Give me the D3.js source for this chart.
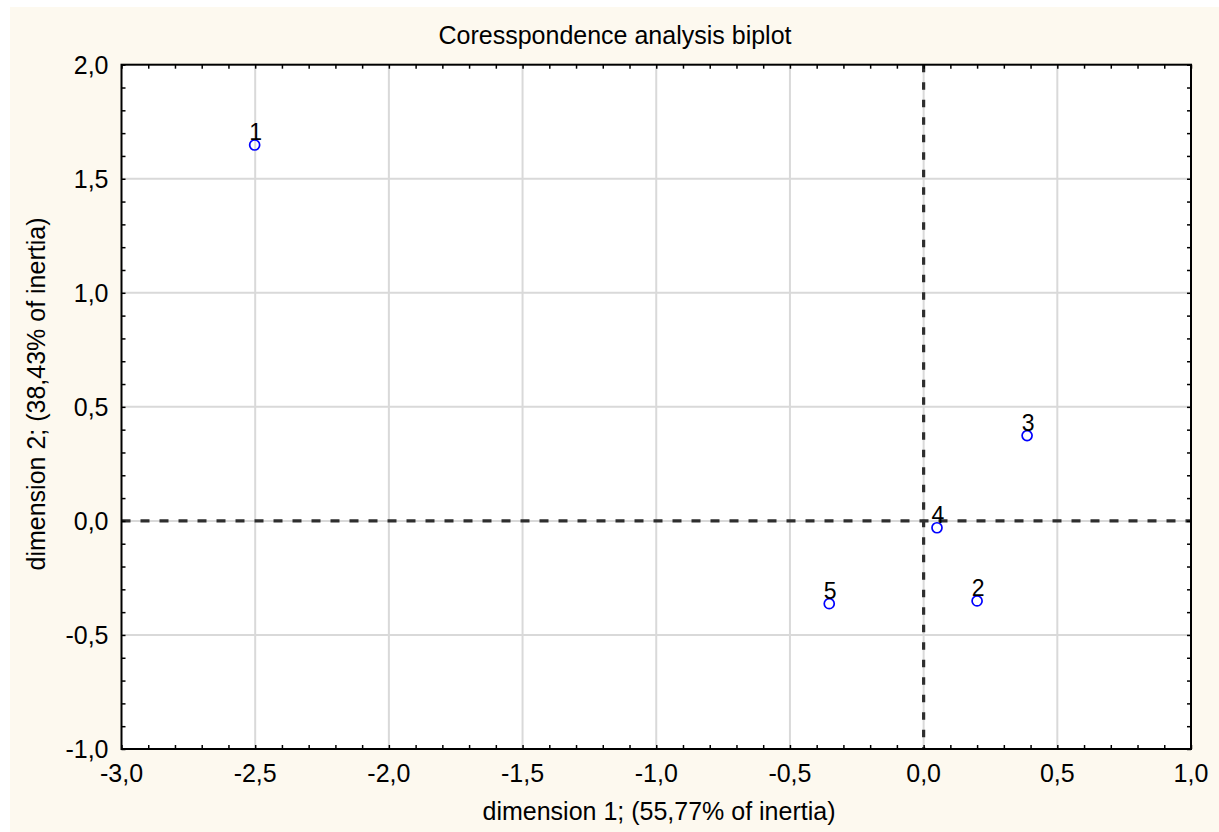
<!DOCTYPE html>
<html>
<head>
<meta charset="utf-8">
<script src="https://cdn.jsdelivr.net/npm/d3@7"></script>
<style>
  html, body { margin: 0; padding: 0; background: #ffffff; }
  svg { display: block; }
  text { font-family: "Liberation Sans", Arial, sans-serif; fill: #000; }
</style>
</head>
<body>
<svg id="chart" width="1219" height="832"></svg>
<script>
// ---- data ----
const pointLabels = ["1", "2", "3", "4", "5"];
const dim1 = [-2.502, 0.200, 0.387, 0.050, -0.353];
const dim2 = [1.648, -0.351, 0.374, -0.030, -0.363];
const xTicks = [-3.0, -2.5, -2.0, -1.5, -1.0, -0.5, 0.0, 0.5, 1.0];
const yTicks = [-1.0, -0.5, 0.0, 0.5, 1.0, 1.5, 2.0];
const titleText = "Coresspondence analysis biplot";
const xTitle = "dimension 1; (55,77% of inertia)";
const yTitle = "dimension 2; (38,43% of inertia)";

// ---- layout ----
const W = 1219, H = 832;
const plot = { left: 121.5, right: 1191, top: 64.7, bottom: 749 };
const svg = d3.select("#chart");

// background
svg.append("rect").attr("x", 10).attr("y", 7).attr("width", W - 10).attr("height", H - 7)
  .attr("fill", "#fdf9ef");
svg.append("rect").attr("x", plot.left).attr("y", plot.top)
  .attr("width", plot.right - plot.left).attr("height", plot.bottom - plot.top)
  .attr("fill", "#ffffff");

const x = d3.scaleLinear().domain([-3, 1]).range([plot.left, plot.right]);
const y = d3.scaleLinear().domain([-1, 2]).range([plot.bottom, plot.top]);

const fmt = v => d3.format(".1f")(v).replace(".", ",").replace("−", "-");

// grid
const grid = svg.append("g");
grid.selectAll("line.gx").data(xTicks.filter(v => v > -3 && v < 1)).join("line")
  .attr("x1", d => x(d)).attr("x2", d => x(d))
  .attr("y1", plot.top).attr("y2", plot.bottom)
  .attr("stroke", "#d9d9d9").attr("stroke-width", 2);
grid.selectAll("line.gy").data(yTicks.filter(v => v > -1 && v < 2)).join("line")
  .attr("x1", plot.left).attr("x2", plot.right)
  .attr("y1", d => y(d)).attr("y2", d => y(d))
  .attr("stroke", "#d9d9d9").attr("stroke-width", 2);

// zero dashed lines
svg.append("line").attr("x1", plot.left).attr("x2", plot.right)
  .attr("y1", y(0)).attr("y2", y(0))
  .attr("stroke", "#2e2e2e").attr("stroke-width", 3.2).attr("stroke-dasharray", "9,10");
svg.append("line").attr("x1", x(0)).attr("x2", x(0))
  .attr("y1", plot.top).attr("y2", plot.bottom)
  .attr("stroke", "#2e2e2e").attr("stroke-width", 3.2).attr("stroke-dasharray", "7.5,10");

// axes with inward minor ticks
const xMinor = d3.range(-30, 11).map(i => i / 10);
const yMinor = d3.range(-10, 21).map(i => i / 10);
const tickLen = 4;

const axB = d3.axisBottom(x).tickValues(xMinor).tickSizeInner(-tickLen).tickSizeOuter(0).tickFormat("");
const axT = d3.axisTop(x).tickValues(xMinor).tickSizeInner(-tickLen).tickSizeOuter(0).tickFormat("");
const axL = d3.axisLeft(y).tickValues(yMinor).tickSizeInner(-tickLen).tickSizeOuter(0).tickFormat("");
const axR = d3.axisRight(y).tickValues(yMinor).tickSizeInner(-tickLen).tickSizeOuter(0).tickFormat("");

function styleAxis(g) {
  g.select(".domain").remove();
  g.selectAll(".tick line").attr("stroke", "#000").attr("stroke-width", 1.5);
}
svg.append("g").attr("transform", `translate(0,${plot.bottom})`).call(axB).call(styleAxis);
svg.append("g").attr("transform", `translate(0,${plot.top})`).call(axT).call(styleAxis);
svg.append("g").attr("transform", `translate(${plot.left},0)`).call(axL).call(styleAxis);
svg.append("g").attr("transform", `translate(${plot.right},0)`).call(axR).call(styleAxis);

// frame
svg.append("rect").attr("x", plot.left).attr("y", plot.top)
  .attr("width", plot.right - plot.left).attr("height", plot.bottom - plot.top)
  .attr("fill", "none").attr("stroke", "#000").attr("stroke-width", 2);

// tick labels
svg.append("g").selectAll("text").data(xTicks).join("text")
  .attr("x", d => x(d)).attr("y", 782)
  .attr("text-anchor", "middle").attr("font-size", 25)
  .text(d => fmt(d));
svg.append("g").selectAll("text").data(yTicks).join("text")
  .attr("x", 108.5).attr("y", d => y(d)).attr("dy", "0.36em")
  .attr("text-anchor", "end").attr("font-size", 25)
  .text(d => fmt(d));

// titles
svg.append("text").attr("x", 615).attr("y", 44).attr("text-anchor", "middle")
  .attr("font-size", 25).text(titleText);
svg.append("text").attr("x", 659).attr("y", 820).attr("text-anchor", "middle")
  .attr("font-size", 25).text(xTitle);
svg.append("text").attr("transform", `translate(45,${394}) rotate(-90)`)
  .attr("text-anchor", "middle").attr("font-size", 25).text(yTitle);

// points
const pts = pointLabels.map((l, i) => ({ label: l, dx: dim1[i], dy: dim2[i] }));
const pg = svg.append("g");
pg.selectAll("circle").data(pts).join("circle")
  .attr("cx", d => x(d.dx)).attr("cy", d => y(d.dy)).attr("r", 5)
  .attr("fill", "none").attr("stroke", "#0000ff").attr("stroke-width", 1.7);
pg.selectAll("text").data(pts).join("text")
  .attr("x", d => x(d.dx) + 1).attr("y", d => y(d.dy) - 4.5)
  .attr("text-anchor", "middle").attr("font-size", 23)
  .text(d => d.label);
</script>
</body>
</html>
